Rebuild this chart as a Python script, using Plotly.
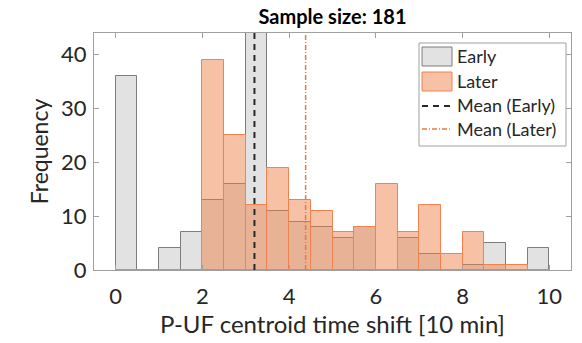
import plotly.graph_objects as go

# Histogram bins (left edges, width 0.5) of the centroid time shift, in units of 10 min
bin_left = [0.0, 0.5, 1.0, 1.5, 2.0, 2.5, 3.0, 3.5, 4.0, 4.5,
            5.0, 5.5, 6.0, 6.5, 7.0, 7.5, 8.0, 8.5, 9.0, 9.5]
bin_width = 0.5

early_counts = [36, 0, 4, 7, 13, 16, 44, 11, 9, 8,
                6, 8, 0, 6, 3, 0, 1, 5, 0, 4]
later_counts = [0, 0, 0, 0, 39, 25, 12, 19, 13, 11,
                7, 8, 16, 7, 12, 3, 7, 1, 1, 0]

mean_early = 3.2
mean_later = 4.38
sample_size = 181

series_names = ["Early", "Later", "Mean (Early)", "Mean (Later)"]
x_ticks = [0, 2, 4, 6, 8, 10]
y_ticks = [0, 10, 20, 30, 40]

centers = [b + bin_width / 2 for b in bin_left]
y_max = 44

FONT = "Lato, 'Open Sans', sans-serif"
AXIS_GREY = "rgb(160,160,160)"
TEXT = "rgb(38,38,38)"

EARLY_FILL = "rgb(226,226,226)"
EARLY_EDGE = "rgb(125,125,125)"
LATER_FILL = "rgba(238,125,70,0.48)"
LATER_EDGE = "rgb(240,130,80)"
MEAN_EARLY_LINE = dict(color="rgb(40,40,40)", width=2, dash="6px,5px")
MEAN_LATER_LINE = dict(color="rgb(238,120,60)", width=1.5, dash="5px,2px,1px,2px")

# plot area in pixels: left 94, right 571, top 33, bottom 270
L, R, T, B = 94, 571, 33, 270


def px_x(p):
    return (p - L) / (R - L)


def px_y(p):
    return (B - p) / (B - T)


fig = go.Figure()

fig.add_trace(go.Bar(
    x=centers, y=early_counts, width=bin_width, name=series_names[0],
    marker=dict(color=EARLY_FILL, line=dict(color=EARLY_EDGE, width=1)),
))
fig.add_trace(go.Bar(
    x=centers, y=later_counts, width=bin_width, name=series_names[1],
    marker=dict(color=LATER_FILL, line=dict(color=LATER_EDGE, width=1)),
))
fig.add_trace(go.Scatter(
    x=[mean_early, mean_early], y=[0, y_max], mode="lines",
    name=series_names[2], line=MEAN_EARLY_LINE,
))
fig.add_trace(go.Scatter(
    x=[mean_later, mean_later], y=[0, y_max], mode="lines",
    name=series_names[3], line=MEAN_LATER_LINE,
))

# Legend box drawn by hand so the swatches are wide rectangles
shapes = [
    dict(type="rect", xref="paper", yref="paper",
         x0=px_x(419), x1=px_x(566), y0=px_y(43), y1=px_y(146),
         fillcolor="white", line=dict(color=AXIS_GREY, width=1), layer="above"),
    dict(type="rect", xref="paper", yref="paper",
         x0=px_x(422), x1=px_x(452), y0=px_y(47), y1=px_y(66),
         fillcolor=EARLY_FILL, line=dict(color=EARLY_EDGE, width=1), layer="above"),
    dict(type="rect", xref="paper", yref="paper",
         x0=px_x(422), x1=px_x(452), y0=px_y(72), y1=px_y(91),
         fillcolor=LATER_FILL, line=dict(color=LATER_EDGE, width=1), layer="above"),
    dict(type="line", xref="paper", yref="paper",
         x0=px_x(422), x1=px_x(452), y0=px_y(106), y1=px_y(106),
         line=MEAN_EARLY_LINE, layer="above"),
    dict(type="line", xref="paper", yref="paper",
         x0=px_x(422), x1=px_x(452), y0=px_y(129), y1=px_y(129),
         line=MEAN_LATER_LINE, layer="above"),
]
legend_rows = [56, 81, 105, 129]
annotations = [
    dict(text=name, xref="paper", yref="paper", x=px_x(455), y=px_y(row),
         xanchor="left", yanchor="middle", showarrow=False,
         font=dict(family=FONT, size=18, color=TEXT))
    for name, row in zip(series_names, legend_rows)
]

fig.update_layout(
    width=582, height=343,
    margin=dict(l=L, r=582 - R, t=T, b=343 - B),
    barmode="overlay",
    bargap=0,
    plot_bgcolor="white",
    paper_bgcolor="white",
    font=dict(family=FONT, size=22, color=TEXT),
    title=dict(text="<b>Sample size: %d</b>" % sample_size,
               x=(L + R) / 2 / 582, xanchor="center",
               y=1 - 17 / 343, yanchor="middle",
               font=dict(family=FONT, size=20, color="black")),
    showlegend=False,
    shapes=shapes,
    annotations=annotations,
)

fig.update_xaxes(
    range=[-0.5, 10.5], tickvals=x_ticks, ticktext=[str(t) for t in x_ticks],
    ticks="inside", ticklen=5, tickcolor=AXIS_GREY,
    showline=True, linecolor=AXIS_GREY, linewidth=1, mirror="allticks",
    showgrid=False, zeroline=False, ticklabelstandoff=7,
    title=dict(text="P-UF centroid time shift [10 min]", font=dict(size=24), standoff=5),
    tickfont=dict(size=22),
)
fig.update_yaxes(
    range=[0, y_max], tickvals=y_ticks, ticktext=[str(t) for t in y_ticks],
    ticks="inside", ticklen=5, tickcolor=AXIS_GREY,
    showline=True, linecolor=AXIS_GREY, linewidth=1, mirror="allticks",
    showgrid=False, zeroline=False, ticklabelstandoff=2,
    title=dict(text="Frequency", font=dict(size=23), standoff=6),
    tickfont=dict(size=22),
)

fig.write_html("out.html")
